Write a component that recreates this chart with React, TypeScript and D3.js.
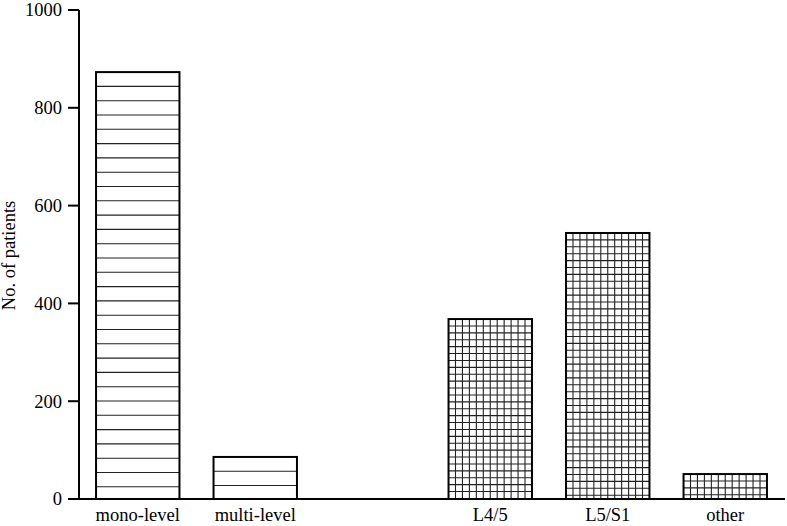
import React from "react";
import * as d3 from "d3";

const slots = ["mono-level", "multi-level", "gap", "L4/5", "L5/S1", "other"];
const categories = ["mono-level", "multi-level", "L4/5", "L5/S1", "other"];
const values = [873, 86, 368, 544, 51];
const patterns = ["lines", "lines", "grid", "grid", "grid"];
const yTicks = [0, 200, 400, 600, 800, 1000];
const yLabel = "No. of patients";

const W = 787;
const H = 526;
const left = 79;
const right = 784;
const top = 10;
const bottom = 499;
const FONT = "'Liberation Serif', 'Times New Roman', serif";
const FS = 18.5;

export default function App() {
  const x = d3.scaleBand<string>().domain(slots).range([left, right]).paddingInner(0.29).paddingOuter(0.145);
  const y = d3.scaleLinear().domain([0, 1000]).range([bottom, top]);
  const bw = x.bandwidth();

  const bars = categories.map((c, i) => {
    const x0 = x(c)!;
    const y0 = y(values[i]);
    const hLines: number[] = [];
    const vLines: number[] = [];
    if (patterns[i] === "lines") {
      for (let yy = y0 + 14.3; yy < bottom - 2; yy += 14.3) hLines.push(yy);
    } else {
      for (let yy = y0 + 6.9; yy < bottom - 2; yy += 6.9) hLines.push(yy);
      for (let k = 1; k < 12; k++) vLines.push(x0 + (bw * k) / 12);
    }
    return (
      <g key={c}>
        <rect x={x0} y={y0} width={bw} height={bottom - y0} fill="#fff" />
        {hLines.map((yy, j) => (
          <line key={"h" + j} x1={x0} x2={x0 + bw} y1={yy} y2={yy} stroke="#222" strokeWidth={1.1} />
        ))}
        {vLines.map((xx, j) => (
          <line key={"v" + j} x1={xx} x2={xx} y1={y0} y2={bottom} stroke="#222" strokeWidth={1.1} />
        ))}
        <rect x={x0} y={y0} width={bw} height={bottom - y0} fill="none" stroke="#000" strokeWidth={2} />
        <text x={x0 + bw / 2} y={521} textAnchor="middle" fontFamily={FONT} fontSize={FS} fill="#000">
          {c}
        </text>
      </g>
    );
  });

  return (
    <svg width={W} height={H} style={{ position: "absolute", left: 0, top: 0, background: "#fff" }}>
      <rect x={0} y={0} width={W} height={H} fill="#fff" />
      {bars}
      <line x1={left} x2={left} y1={top} y2={bottom + 1} stroke="#000" strokeWidth={2} />
      <line x1={left - 1} x2={right + 1} y1={bottom} y2={bottom} stroke="#000" strokeWidth={2} />
      {yTicks.map((t) => (
        <g key={t}>
          <line x1={68} x2={left} y1={y(t)} y2={y(t)} stroke="#000" strokeWidth={2} />
          <text x={62} y={y(t)} dy="0.35em" textAnchor="end" fontFamily={FONT} fontSize={FS} fill="#000">
            {t}
          </text>
        </g>
      ))}
      <text
        transform={`translate(15, ${(top + bottom) / 2 + 1}) rotate(-90)`}
        textAnchor="middle"
        fontFamily={FONT}
        fontSize={FS}
        fill="#000"
      >
        {yLabel}
      </text>
    </svg>
  );
}
